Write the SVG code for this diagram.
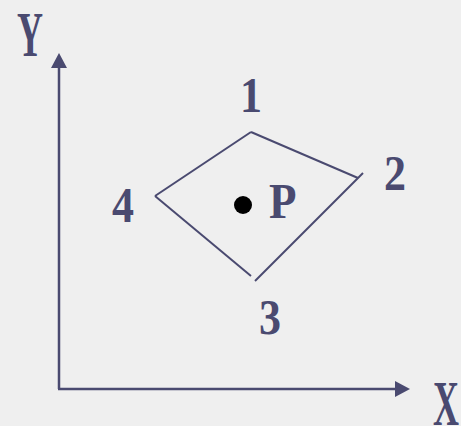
<svg xmlns="http://www.w3.org/2000/svg" width="461" height="426" viewBox="0 0 461 426">
  <style>
    .ln { stroke: #4a4a70; stroke-width: 2; fill: none; stroke-linecap: butt; }
    .ax { stroke: #4a4a70; stroke-width: 2.5; fill: none; }
    .hd { fill: #4a4a70; stroke: none; }
    .lb { font-family: "Liberation Serif", "Times New Roman", serif; font-size: 50px; fill: #4a4a70; font-weight: bold; }
    .ax-lb { font-family: "Liberation Serif", "Times New Roman", serif; font-size: 60px; fill: #4a4a70; font-weight: bold; }
  </style>
  <rect x="0" y="0" width="461" height="426" fill="#efefef"/>
  <g id="connectors">
    <g id="y-axis">
      <line class="ax" x1="59" y1="389" x2="59" y2="66"/>
      <polygon class="hd" points="59,53 51,68 67,68"/>
    </g>
    <g id="x-axis">
      <line class="ax" x1="58" y1="389" x2="397" y2="389"/>
      <polygon class="hd" points="410,389 395,381 395,397"/>
    </g>
    <g id="quad">
      <line class="ln" x1="251" y1="132" x2="358" y2="178"/>
      <line class="ln" x1="363" y1="173" x2="255" y2="281"/>
      <line class="ln" x1="251" y1="132" x2="155" y2="196"/>
      <line class="ln" x1="155" y1="196" x2="251" y2="276"/>
    </g>
  </g>
  <g id="node-P">
    <circle cx="243" cy="205" r="9" fill="#000"/>
    <text class="lb" transform="translate(269,218) scale(0.9,1)">P</text>
  </g>
  <g id="node-1"><text class="lb" transform="translate(251,112) scale(0.88,1)" text-anchor="middle">1</text></g>
  <g id="node-2"><text class="lb" transform="translate(395,190) scale(0.88,1)" text-anchor="middle">2</text></g>
  <g id="node-3"><text class="lb" transform="translate(270,334) scale(0.88,1)" text-anchor="middle">3</text></g>
  <g id="node-4"><text class="lb" transform="translate(123,222) scale(0.88,1)" text-anchor="middle">4</text></g>
  <g id="label-Y"><text class="ax-lb" transform="translate(30,56) scale(0.6,1.06)" text-anchor="middle">Y</text></g>
  <g id="label-X"><text class="ax-lb" transform="translate(446,425) scale(0.6,1.06)" text-anchor="middle">X</text></g>
</svg>
